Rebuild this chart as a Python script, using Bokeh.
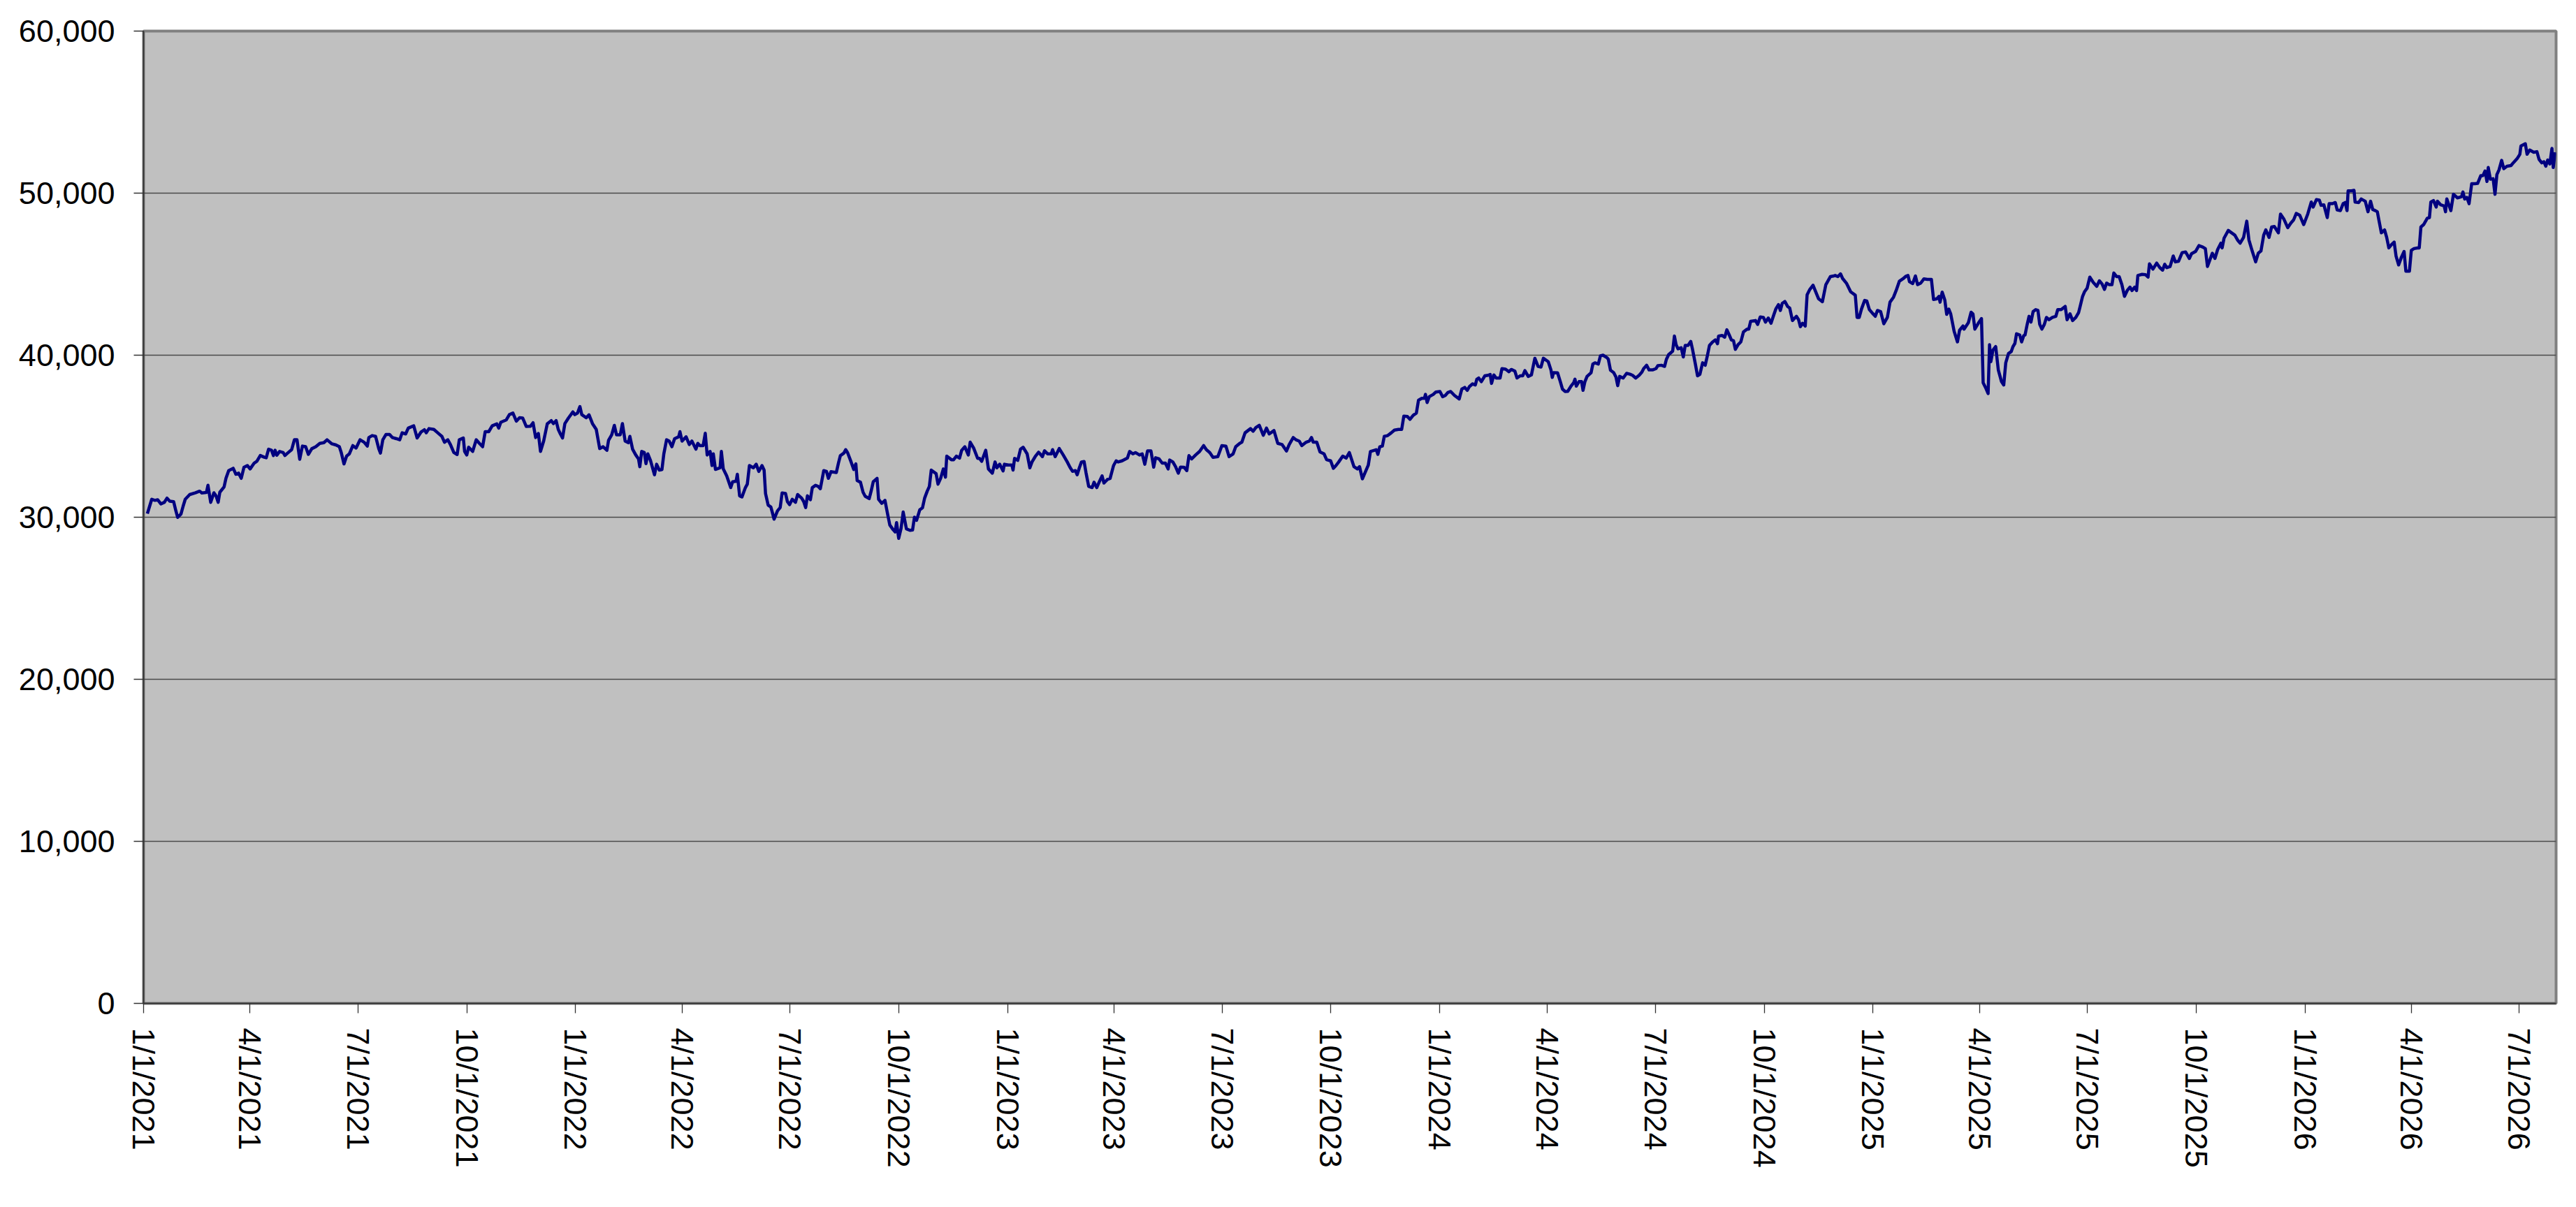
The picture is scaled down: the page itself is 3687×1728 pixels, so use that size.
import pandas as pd
from bokeh.plotting import figure
from bokeh.models import (Range1d, FixedTicker, NumeralTickFormatter,
                          CustomJSTickFormatter, ColumnDataSource)
from bokeh.embed import file_html
from bokeh.resources import INLINE

# ---------------- data ----------------
start_date = "2021-01-01"
end_date = "2026-08-01"

# position of each point, in days after start_date
day_offsets = [
    3.2, 6.9, 9.6, 11.9, 14.6, 17.5, 19.8, 22.1, 25.4, 27.3, 28.8, 31.6, 33.4, 35.2, 39.0, 43.6,
    47.4, 49.2, 53.1, 54.4, 56.7, 59.4, 61.2, 63.0, 64.4, 68.0, 69.6, 71.9, 75.7, 78.0, 80.3, 82.5,
    84.8, 87.7, 90.0, 93.4, 95.7, 98.6, 102.0, 103.6, 105.6, 108.1, 109.7, 111.1, 112.6, 114.9,
    117.9, 119.4, 121.7, 125.1, 127.4, 129.6, 131.9, 134.2, 136.9, 139.2, 142.1, 145.5, 148.9,
    152.3, 155.0, 159.1, 162.5, 165.4, 167.0, 169.3, 171.5, 173.8, 176.8, 179.5, 182.9, 186.3,
    189.0, 190.3, 193.1, 196.0, 198.7, 200.1, 202.1, 204.8, 207.8, 210.1, 213.5, 216.4, 218.4,
    221.4, 223.6, 228.2, 231.1, 234.3, 237.2, 238.8, 241.1, 245.2, 248.5, 252.0, 254.2, 257.0,
    259.2, 262.1, 264.9, 266.7, 270.1, 271.2, 273.0, 274.6, 278.0, 281.0, 283.7, 286.4, 288.6,
    291.6, 294.5, 298.4, 300.0, 301.8, 306.3, 309.0, 312.0, 314.9, 317.6, 320.3, 323.3, 326.7,
    329.0, 331.2, 333.5, 335.3, 338.0, 341.0, 344.4,
    346.2, 348.5, 350.3, 352.1, 353.9, 355.9, 358.9, 362.7, 364.3, 366.6, 368.6, 370.2, 374.0,
    376.3, 379.2, 382.4, 385.3, 388.2, 391.4, 392.8, 395.5, 397.7, 399.5, 402.7, 404.5, 406.8,
    409.5, 410.8, 413.1, 415.8, 418.1, 419.2, 420.8, 423.0, 424.4, 426.0, 428.2, 431.6, 433.4,
    435.7, 437.9, 439.5, 441.8, 444.0, 446.3, 448.6, 452.0, 453.1, 454.9, 458.3, 461.0, 463.2,
    466.6, 468.2, 470.0, 472.7, 474.5, 476.1, 478.6, 480.2, 481.3, 483.1, 487.0, 488.1, 489.7,
    492.6, 496.0, 497.6, 500.5, 501.6, 503.5, 505.5, 508.4, 510.0, 511.8, 515.2, 517.5, 519.7,
    522.4, 524.2, 525.4, 527.6, 529.9, 531.0, 532.6, 535.5, 537.8, 539.4, 542.3, 543.9, 545.7,
    548.0, 550.7, 552.5, 555.9, 557.7, 559.3, 560.8, 563.3, 564.9, 567.6, 569.9, 571.7, 574.6,
    576.9, 578.5, 580.7, 585.2, 587.0, 588.6, 591.6, 593.1, 594.7, 597.7, 599.9, 601.7, 602.8,
    605.6, 607.8, 609.6, 613.0, 614.6, 616.4, 619.6, 620.9, 623.6, 626.3, 628.6, 630.4, 633.1,
    634.9, 636.1, 637.9, 639.9, 641.7, 644.4, 647.4, 649.6, 651.2, 653.0, 655.7, 658.0, 659.8,
    662.0, 663.8, 665.4, 669.5, 671.1, 673.3, 675.6, 677.4, 678.5, 682.4,
    684.3, 686.6, 689.3, 691.1, 693.8, 696.7, 698.3, 701.2, 704.6, 706.2, 708.0, 711.4, 713.7,
    717.0, 719.3, 720.9, 723.2, 726.1, 727.2, 730.6, 733.5, 734.5, 735.8, 738.5, 740.8, 743.0,
    746.4, 748.7, 750.5, 753.2, 756.1, 757.7, 759.3, 761.1, 763.8, 766.8, 767.9, 770.1, 773.5,
    776.9, 780.3, 782.6, 784.8, 787.1, 788.7, 790.5, 792.3, 794.5, 796.1, 798.4, 801.3, 802.9,
    805.2, 807.4, 809.7, 811.3, 814.2, 816.5, 819.4, 821.6, 823.2, 826.6, 831.1, 833.0, 835.7,
    837.9, 841.3, 843.6, 845.8, 848.1, 851.0, 853.3, 854.9, 857.8, 860.5, 863.2, 865.5, 866.8,
    869.5, 871.8, 874.1, 875.9, 879.0, 881.3, 883.1, 885.4, 888.7, 892.1, 895.5, 897.8, 900.7,
    903.4, 907.5, 910.9, 914.3, 917.0, 920.4, 922.6, 926.0, 927.8, 930.5, 935.1, 937.3, 939.6,
    942.5, 945.9, 948.6, 950.9, 954.9, 958.1, 961.7, 965.5, 967.8, 971.2, 973.5, 976.2, 978.4,
    982.1, 984.8, 986.6, 988.1, 991.1, 993.8, 997.2, 999.4, 1002.8, 1005.1, 1007.3, 1009.6,
    1013.0, 1015.9, 1018.6, 1022.5, 1025.4, 1027.2,
    1029.6, 1032.3, 1034.6, 1036.4, 1039.8, 1041.3, 1042.7, 1044.3, 1046.5, 1048.1, 1051.0,
    1054.0, 1056.7, 1060.1, 1062.8, 1064.6, 1067.6, 1069.8, 1072.5, 1075.2, 1077.0, 1079.8,
    1082.0, 1082.9, 1084.3, 1086.1, 1089.5, 1091.7, 1095.1, 1097.4, 1099.6, 1101.9, 1104.2,
    1107.5, 1111.4, 1113.6, 1116.1, 1118.2, 1120.0, 1122.7, 1125.0, 1126.3, 1127.9, 1130.1,
    1133.1, 1135.8, 1137.6, 1138.7, 1140.7, 1142.6, 1145.9, 1147.5, 1150.5, 1153.4, 1155.4,
    1158.4, 1160.2, 1162.9, 1165.1, 1166.9, 1169.7, 1172.4, 1175.3, 1178.0, 1180.5, 1182.5,
    1186.6, 1188.9, 1190.0, 1191.1, 1194.5, 1196.8, 1198.6, 1200.8, 1203.1, 1205.8, 1208.1,
    1209.2, 1210.3, 1212.6, 1214.8, 1216.0, 1217.6, 1219.4, 1222.8, 1224.3, 1226.1, 1228.9,
    1230.7, 1232.9, 1236.3, 1237.4, 1239.2, 1241.9, 1243.8, 1245.3, 1246.9, 1249.9, 1252.8,
    1255.5, 1257.8, 1260.5, 1263.4, 1265.7, 1267.2, 1269.7, 1271.8, 1274.7, 1277.6, 1279.2,
    1282.2, 1284.9, 1286.4, 1288.3, 1291.7, 1293.2, 1294.6, 1296.2, 1298.9, 1300.7, 1302.3,
    1304.7, 1307.0, 1308.6, 1310.9, 1312.7, 1314.7, 1317.0, 1319.2, 1321.0, 1322.8, 1325.5,
    1327.8, 1329.6, 1330.5, 1333.4, 1335.7, 1337.5, 1339.5, 1341.3, 1343.1, 1344.7, 1347.0,
    1349.3, 1351.5, 1354.5, 1356.0, 1357.6, 1361.7, 1363.5, 1365.7, 1368.4, 1370.1, 1372.5,
    1374.8, 1377.1, 1378.9, 1381.1, 1382.7, 1384.3, 1386.5, 1388.8, 1390.6, 1392.9, 1396.3,
    1398.1, 1399.6, 1401.5, 1403.7, 1405.3, 1407.6, 1410.3, 1412.1, 1415.0, 1418.2, 1421.1,
    1425.0, 1427.2, 1429.0, 1431.3, 1433.5, 1435.3, 1438.7, 1442.1, 1446.0, 1447.5, 1449.3,
    1451.2, 1453.9, 1455.7, 1457.9, 1460.6, 1462.9, 1464.7, 1467.4, 1470.1, 1473.1, 1475.3,
    1478.3, 1480.5, 1483.2, 1486.2, 1488.9, 1490.5, 1491.8, 1494.5, 1496.8, 1498.6, 1501.3,
    1504.0, 1506.9, 1510.3, 1512.1, 1514.9, 1516.7, 1517.6, 1519.4, 1521.6, 1523.2, 1525.0,
    1526.6, 1529.5, 1532.3, 1534.1, 1537.0, 1537.9, 1541.5, 1543.8, 1545.4, 1547.0, 1549.9,
    1552.6, 1554.0, 1556.0, 1558.2, 1559.4, 1560.5, 1562.3, 1564.6, 1566.8, 1569.5, 1571.4,
    1573.1, 1575.4, 1577.7, 1579.2, 1580.8, 1582.2, 1584.9, 1586.5, 1588.3, 1589.4, 1591.2,
    1592.8, 1594.4, 1596.2, 1598.4, 1600.3, 1601.8, 1603.6, 1605.7, 1607.5, 1609.7, 1612.5,
    1615.4, 1617.0, 1619.9, 1623.3, 1624.9, 1627.4, 1629.6, 1632.3, 1634.6, 1636.4, 1638.0,
    1639.6, 1641.8, 1644.1, 1647.0, 1650.0, 1652.2, 1654.5, 1656.5, 1658.3, 1660.6, 1662.8,
    1664.4, 1666.7, 1668.9, 1671.2, 1673.4, 1675.7, 1678.0, 1679.8, 1682.0, 1683.6, 1684.7,
    1688.3, 1691.1, 1693.3, 1694.5, 1697.4,
    1700.6, 1703.3, 1705.6, 1707.4, 1709.2, 1711.9, 1714.6, 1716.4, 1719.1, 1722.1, 1725.0,
    1728.2, 1730.0, 1733.4, 1736.3, 1739.0, 1741.7, 1743.5, 1745.3, 1747.6, 1749.8, 1752.1,
    1754.8, 1755.9, 1757.5, 1761.1, 1763.9, 1766.6, 1769.1, 1771.1, 1774.0, 1776.7, 1778.5,
    1780.8, 1784.2, 1786.4, 1788.7, 1791.0, 1792.8, 1795.5, 1797.7, 1800.0, 1803.4, 1805.2,
    1807.9, 1811.3, 1814.0, 1816.3, 1818.5, 1821.5, 1824.8, 1828.2, 1831.2, 1832.8, 1835.5,
    1838.0, 1839.5, 1841.8, 1844.7, 1846.3, 1849.0, 1851.5, 1853.1, 1855.8, 1858.1, 1859.9,
    1861.4, 1862.3, 1865.1, 1867.3, 1868.2, 1871.2, 1873.4, 1876.8, 1879.1, 1881.3, 1883.1,
    1885.4, 1887.0, 1888.1, 1890.4, 1893.1, 1894.9, 1896.7, 1899.0, 1901.2, 1902.8, 1905.0,
    1907.3, 1909.6, 1911.1, 1914.1, 1915.7, 1918.0, 1920.9, 1922.4, 1923.8, 1926.1, 1929.2,
    1931.0, 1932.2, 1934.4, 1936.7, 1937.8, 1940.5, 1943.4, 1944.6, 1945.7, 1949.1, 1951.3,
    1954.7, 1958.1, 1959.3, 1960.8, 1962.6, 1964.5, 1966.7, 1969.4, 1971.7, 1974.4, 1976.2,
    1978.0, 1979.6, 1980.7, 1982.5, 1984.8, 1986.4, 1988.0, 1989.8, 1992.0, 1993.8, 1996.5,
    1999.9, 2002.2, 2005.1, 2007.4, 2008.3, 2012.0, 2013.5, 2015.7, 2019.1, 2021.8, 2023.6,
    2025.9, 2027.7, 2029.3, 2030.9, 2032.7, 2034.5, 2035.6, 2037.2,
]

index_values = [
    30220, 31110, 31040, 31080, 30820, 30920, 31180, 30990, 30960, 30390, 29990, 30200, 30680, 31110, 31400, 31500,
    31610, 31500, 31530, 31970, 30920, 31510, 31320, 30920, 31540, 31870, 32400, 32880, 33020, 32650, 32720, 32400,
    33080, 33190, 32980, 33340, 33450, 33810, 33700, 33670, 34200, 34130, 33810, 34130, 33830, 34060,
    33990, 33810, 33960, 34170, 34780, 34780, 33580, 34390, 34350, 33880, 34230, 34350, 34560,
    34600, 34780, 34530, 34460, 34350, 33990, 33290, 33770, 33910, 34420, 34270, 34780, 34630,
    34390, 34920, 35040, 34990, 34230, 33960, 34780, 35110, 35110, 34920, 34850, 34780, 35210,
    35140, 35500, 35640, 34890, 35250, 35400, 35210, 35470, 35420, 35210, 34990, 34630, 34780,
    34490, 33990, 33870, 34780, 34890, 34060, 33840, 34320, 34060, 34780, 34560, 34350, 35280,
    35280, 35640, 35760, 35500, 35860, 36000, 36330, 36430, 35930, 36140, 36120, 35600, 35610,
    35830, 34920, 35170, 34060, 34710, 35760, 35960,
    35780, 35960, 35420, 35140, 34890, 35780, 36120, 36500, 36330, 36430, 36830, 36330, 36140,
    36320, 35780, 35420, 34240, 34350, 34130, 34750, 35090, 35670, 35090, 35090, 35780, 34700,
    34600, 34990, 34200, 33840, 33600, 33120, 34060, 33990, 33310, 33910, 33510, 32620, 33270,
    32910, 32940, 33910, 34780, 34700, 34350, 34850, 34960, 35280, 34700, 34960, 34490, 34700,
    34200, 34560, 34420, 34420, 35180, 33840, 34060, 33190, 33910, 32950, 33050, 34060, 32980,
    32550, 31830, 32190, 32220, 32650, 31320, 31250, 31830, 32040, 33190, 33050, 33270, 32830,
    33190, 32910, 31470, 30750, 30630, 30340, 29880, 30390, 30600, 31500, 31470, 30960, 30780,
    31110, 30920, 31400, 31180, 30960, 30600, 31320, 31080, 31830, 31970, 31900, 31760, 32880,
    32830, 32400, 32810, 32760, 33340, 33800, 33960, 34170, 33990, 33410, 32950, 33290, 32260,
    32160, 31540, 31290, 31150, 31610, 32190, 32400, 31110, 30860, 31040, 30170, 29520, 29240,
    29090, 29670, 28700, 29310, 30320, 29280, 29190, 29210, 30000, 29810, 30460, 30580, 31180,
    31610, 31900, 32910, 32690, 32040, 32400, 32980, 32470, 33770, 33550,
    33550, 33770, 33650, 34130, 34350, 33840, 34630, 34270, 33630, 33630, 33450, 34130, 32980,
    32720, 33410, 33050, 33270, 32860, 33270, 33220, 33220, 32910, 33630, 33510, 34200, 34320,
    33910, 33050, 33410, 33740, 34010, 33880, 33740, 34100, 33910, 33910, 34170, 33740, 34240,
    33840, 33410, 33080, 32830, 32880, 32620, 33050, 33410, 33440, 32760, 31900, 31830, 32160,
    31830, 32190, 32550, 32110, 32330, 32400, 33190, 33480, 33410, 33480, 33650, 34060, 33910,
    33990, 33840, 33910, 33270, 34090, 34090, 33090, 33670, 33600, 33340, 33340, 32980, 33530,
    33410, 33120, 32720, 33090, 33080, 32880, 33800, 33600, 33840, 34060, 34420, 34170, 33990,
    33700, 33740, 34420, 34390, 33740, 33910, 34350, 34560, 34630, 35210, 35470, 35310, 35530,
    35670, 35060, 35500, 35140, 35350, 34560, 34490, 34090, 34490, 34920, 34780, 34700, 34420,
    34630, 34700, 34920, 34630, 34630, 34030, 33910, 33550, 33480, 33020, 33190, 33410,
    33770, 33650, 33990, 33120, 32980, 33120,
    32370, 32830, 33220, 34060, 34130, 34170, 33880, 34350, 34390, 34990, 35040,
    35210, 35380, 35420, 35420, 36240, 36220, 36040, 36290, 36430, 37220, 37340,
    37340, 37580, 37080, 37440, 37580, 37730, 37760, 37440, 37510, 37700, 37760,
    37510, 37300, 37910, 38010, 37830, 38060, 38230, 38160, 38520, 38590, 38370,
    38730, 38760, 38810, 38260, 38780, 38590, 38590, 39170, 39140, 38980, 39120,
    39020, 38590, 38730, 38730, 39050, 38690, 38780, 39810, 39310, 39270, 39810,
    39600, 39090, 38630, 38920, 38910, 38370, 37910, 37760, 37770, 38090, 38300,
    38520, 38090, 38370, 38370, 37830, 38370, 38690, 38920, 39450, 39530, 39450,
    39960, 40000, 39840, 39740, 39070, 38920, 38660, 38120, 38690, 38590, 38880,
    38830, 38760, 38590, 38760, 38950, 39170, 39380, 39090, 39090, 39170, 39350,
    39380, 39310, 39740, 40030, 40250, 41180, 40650, 40390, 40460, 39890, 40600,
    40600, 40850, 40320, 39450, 38730, 38810, 39530, 39380, 39960, 40600, 40820,
    40940, 40710, 41180, 41220, 41110, 41570, 41250, 40940, 40890, 40360, 40650,
    40820, 41430, 41610, 41610, 42090, 42140, 41900, 42360, 42330, 42040, 42290,
    41970, 42480, 42860, 43120, 42760, 43200, 43310, 43010, 42910, 42140, 42400,
    42190, 41760, 41970, 41800, 43730, 44060, 44320, 43990, 43480, 43300, 44350,
    44850, 44880, 44920, 44850, 45020, 44730, 44420, 43910, 43700, 42330, 42330,
    42840, 43380, 43340, 42810, 42580, 42400, 42760, 42690, 41940, 42330, 43270,
    43580, 43990, 44560, 44710, 44880, 44920, 44530, 44420, 44890, 44350, 44450,
    44710, 44680, 44680, 43440, 43480, 43630, 43270, 43890, 43410, 42520, 42840,
    42550, 41470, 40820, 41540, 41800, 41610, 42000, 42650, 42550, 41610, 41970,
    42260, 38300, 38010, 37630, 40650, 39600, 40320, 40530, 39090, 38370, 38160,
    39530, 40100, 40220, 40530, 40720, 41320, 41250, 40820, 41210, 41250, 41900,
    42400, 42040, 42690, 42810, 42760, 41900, 41610, 41900, 42330, 42190, 42330,
    42400, 42810, 42810, 43010, 42190, 42550, 42140, 42330, 42620, 43150, 43630,
    43910, 44130, 44820, 44490, 44250, 44590, 44390, 44060, 44450, 44350, 44350,
    45070, 44850, 44850, 44350, 43630, 43990, 44200, 43990, 44200, 43990, 44920,
    44990, 44970, 44820, 45640, 45310,
    45680, 45400, 45250, 45610, 45400, 45470, 46120, 45760, 45800, 46330, 46370,
    45970, 46260, 46400, 46760, 46690, 46580, 45470, 45830, 46290, 45970, 46520,
    46910, 46620, 47220, 47700, 47550, 47410, 47090, 46910, 47270, 48270, 47120,
    46550, 45760, 46290, 46430, 47410, 47730, 47270, 47910, 47940, 47550, 48710,
    48420, 47870, 48160, 48350, 48750, 48630, 48060, 48710, 49450, 49140, 49600,
    49570, 49250, 49280, 48490, 49350, 49350, 49420, 48960, 48920, 49350, 49420,
    48920, 50140, 50140, 50170, 49450, 49420, 49640, 49500, 48850, 49500, 48990,
    48920, 48850, 48420, 47550, 47730, 47270, 46620, 46830, 46980, 46120, 45570,
    46040, 46400, 45180, 45180, 46470, 46580, 46620, 46620, 47910, 48060, 48450,
    48490, 49450, 49540, 49140, 49500, 49280, 49210, 48850, 49640, 48920, 49930,
    49710, 49780, 50070, 49640, 49740, 49350, 50580, 50580, 50600, 51080, 51080,
    51370, 50720, 51580, 50860, 50890, 49930, 51150, 51440, 52020, 51510, 51660,
    51700, 51900, 52130, 52400, 52910, 53050, 52400, 52660, 52520, 52560, 52090,
    51870, 51940, 51660, 52040, 51800, 52760, 51580, 52520,
]

x_tick_dates = [
    "2021-01-01", "2021-04-01", "2021-07-01", "2021-10-01",
    "2022-01-01", "2022-04-01", "2022-07-01", "2022-10-01",
    "2023-01-01", "2023-04-01", "2023-07-01", "2023-10-01",
    "2024-01-01", "2024-04-01", "2024-07-01", "2024-10-01",
    "2025-01-01", "2025-04-01", "2025-07-01", "2025-10-01",
    "2026-01-01", "2026-04-01", "2026-07-01",
]
y_ticks = [0, 10000, 20000, 30000, 40000, 50000, 60000]

# ---------------- build ----------------
n = min(len(day_offsets), len(index_values))
dates = pd.Timestamp(start_date) + pd.to_timedelta(pd.Series(day_offsets[:n]), unit="D")
source = ColumnDataSource(dict(date=dates, value=index_values[:n]))

p = figure(
    width=3671, height=1712,
    x_axis_type="datetime",
    x_range=Range1d(pd.Timestamp(start_date), pd.Timestamp(end_date)),
    y_range=Range1d(0, 60000),
    output_backend="svg", toolbar_location=None,
    min_border_left=205, min_border_right=13,
    min_border_top=44, min_border_bottom=276,
)
p.title.visible = False

p.background_fill_color = "#C0C0C0"
p.border_fill_color = "white"
p.outline_line_color = "#808080"
p.outline_line_width = 4

p.xgrid.visible = False
p.ygrid.grid_line_color = "#4a4a4a"
p.ygrid.grid_line_width = 1.3

p.yaxis.ticker = FixedTicker(ticks=y_ticks)
p.yaxis.formatter = NumeralTickFormatter(format="0,0")

x_ticks_ms = [pd.Timestamp(d).timestamp() * 1000 for d in x_tick_dates]
p.xaxis.ticker = FixedTicker(ticks=x_ticks_ms)
p.xaxis.formatter = CustomJSTickFormatter(code="""
    const d = new Date(tick);
    return (d.getUTCMonth() + 1) + "/" + d.getUTCDate() + "/" + d.getUTCFullYear();
""")
p.xaxis.major_label_orientation = "vertical"

for ax in (p.xaxis, p.yaxis):
    ax.axis_line_color = "#333333"
    ax.axis_line_width = 2
    ax.major_tick_line_color = "#333333"
    ax.major_tick_line_width = 1.3
    ax.major_tick_in = 0
    ax.major_tick_out = 14
    ax.minor_tick_in = 0
    ax.minor_tick_out = 0
    ax.major_label_text_font = "Liberation Sans"
    ax.major_label_text_font_size = "45px"
    ax.major_label_text_color = "black"

p.xaxis.major_label_standoff = 21
p.yaxis.major_label_standoff = 27

p.line("date", "value", source=source, line_color="#000080",
       line_width=4.5, line_join="round")

open("out.html", "w").write(file_html(p, INLINE))
